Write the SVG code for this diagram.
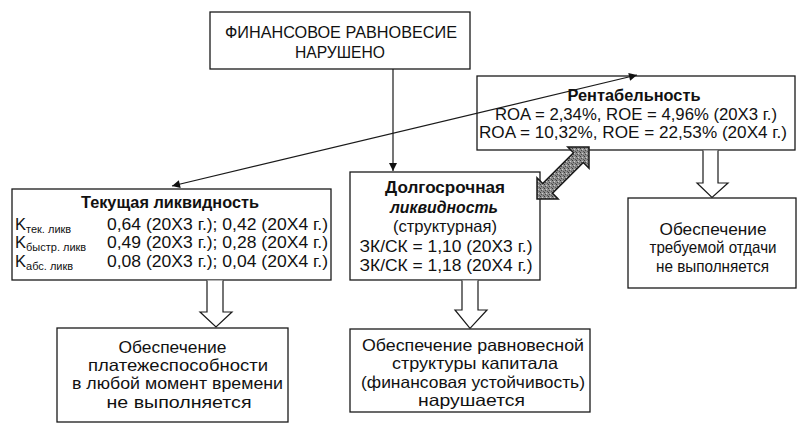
<svg xmlns="http://www.w3.org/2000/svg" width="806" height="432" viewBox="0 0 806 432">
<style>
.box{fill:none;stroke:#1a1a1a;stroke-width:1.3}
text{font-family:"Liberation Sans",Arial,sans-serif;fill:#111;font-size:16.5px}
.c{text-anchor:middle}
.b{font-weight:bold}
.s{font-size:11px}
.line{stroke:#1a1a1a;stroke-width:1.2;fill:none}
.hollow{fill:#fff;stroke:#1a1a1a;stroke-width:1.2;stroke-linejoin:miter}
</style>
<defs>
<marker id="ah" viewBox="0 0 10 10" refX="10" refY="5" markerWidth="11" markerHeight="8" markerUnits="userSpaceOnUse" orient="auto-start-reverse">
<path d="M0,0 L10,5 L0,10 Z" fill="#111"/>
</marker>
<pattern id="stip" width="4" height="4" patternUnits="userSpaceOnUse">
<rect width="4" height="4" fill="#8c8c8c"/>
<rect x="0" y="0" width="1" height="1" fill="#3a3a3a"/>
<rect x="2" y="1" width="1" height="1" fill="#cfcfcf"/>
<rect x="1" y="2" width="1" height="1" fill="#4a4a4a"/>
<rect x="3" y="3" width="1" height="1" fill="#555"/>
</pattern>
</defs>
<rect width="806" height="432" fill="#fff"/>

<g id="node-top">
<rect class="box" x="210" y="12" width="260" height="57"/>
<text class="c" x="341" y="38" textLength="232" lengthAdjust="spacingAndGlyphs">ФИНАНСОВОЕ РАВНОВЕСИЕ</text>
<text class="c" x="340" y="58" textLength="90" lengthAdjust="spacingAndGlyphs">НАРУШЕНО</text>
</g>

<g id="node-rent">
<rect class="box" x="477" y="76" width="318" height="74"/>
<text class="c b" x="634" y="101" textLength="133" lengthAdjust="spacingAndGlyphs">Рентабельность</text>
<text class="c" x="636" y="120" textLength="282" lengthAdjust="spacingAndGlyphs">ROA = 2,34%, ROE = 4,96% (20X3 г.)</text>
<text class="c" x="633" y="138" textLength="308" lengthAdjust="spacingAndGlyphs">ROA = 10,32%, ROE = 22,53% (20X4 г.)</text>
</g>

<g id="node-tek">
<rect class="box" x="12" y="189" width="319" height="91"/>
<text class="c b" x="170" y="208" textLength="178" lengthAdjust="spacingAndGlyphs">Текущая ликвидность</text>
<text x="15" y="230">K<tspan class="s" dy="3">тек. ликв</tspan></text>
<text x="107" y="230" textLength="221" lengthAdjust="spacingAndGlyphs">0,64 (20X3 г.); 0,42 (20X4 г.)</text>
<text x="15" y="248">K<tspan class="s" dy="3">быстр. ликв</tspan></text>
<text x="107" y="248" textLength="221" lengthAdjust="spacingAndGlyphs">0,49 (20X3 г.); 0,28 (20X4 г.)</text>
<text x="15" y="267">K<tspan class="s" dy="3">абс. ликв</tspan></text>
<text x="107" y="267" textLength="221" lengthAdjust="spacingAndGlyphs">0,08 (20X3 г.); 0,04 (20X4 г.)</text>
</g>

<g id="node-dolg">
<rect class="box" x="350" y="172" width="190" height="108"/>
<text class="c b" x="445" y="193" textLength="120" lengthAdjust="spacingAndGlyphs">Долгосрочная</text>
<text class="c b" x="444" y="213" font-style="italic" textLength="108" lengthAdjust="spacingAndGlyphs">ликвидность</text>
<text class="c" x="445" y="232" textLength="104" lengthAdjust="spacingAndGlyphs">(структурная)</text>
<text class="c" x="446" y="252" textLength="173" lengthAdjust="spacingAndGlyphs">ЗК/СК = 1,10 (20X3 г.)</text>
<text class="c" x="446" y="271" textLength="173" lengthAdjust="spacingAndGlyphs">ЗК/СК = 1,18 (20X4 г.)</text>
</g>

<g id="node-res1">
<rect class="box" x="57" y="328" width="231" height="94"/>
<text class="c" x="172.5" y="353" textLength="108" lengthAdjust="spacingAndGlyphs">Обеспечение</text>
<text class="c" x="178" y="371" textLength="180" lengthAdjust="spacingAndGlyphs">платежеспособности</text>
<text class="c" x="177.5" y="389" textLength="211" lengthAdjust="spacingAndGlyphs">в любой момент времени</text>
<text class="c" x="179" y="408" textLength="145" lengthAdjust="spacingAndGlyphs">не выполняется</text>
</g>

<g id="node-res2">
<rect class="box" x="350" y="329" width="240" height="83"/>
<text class="c" x="473" y="351" textLength="222" lengthAdjust="spacingAndGlyphs">Обеспечение равновесной</text>
<text class="c" x="475" y="369" textLength="166" lengthAdjust="spacingAndGlyphs">структуры капитала</text>
<text class="c" x="473" y="388" textLength="224" lengthAdjust="spacingAndGlyphs">(финансовая устойчивость)</text>
<text class="c" x="471.5" y="406" textLength="107" lengthAdjust="spacingAndGlyphs">нарушается</text>
</g>

<g id="node-res3">
<rect class="box" x="628" y="198" width="168" height="90"/>
<text class="c" x="713" y="235" textLength="107" lengthAdjust="spacingAndGlyphs">Обеспечение</text>
<text class="c" x="713" y="253" textLength="127" lengthAdjust="spacingAndGlyphs">требуемой отдачи</text>
<text class="c" x="712.5" y="272" textLength="113" lengthAdjust="spacingAndGlyphs">не выполняется</text>
</g>

<g id="connectors">
<line class="line" x1="393" y1="69" x2="393" y2="171" marker-end="url(#ah)"/>
<line class="line" x1="172" y1="186" x2="637" y2="75" marker-start="url(#ah)" marker-end="url(#ah)"/>
<path class="hollow" d="M207,280.6 L207,312 L200,312 L216,327 L232,312 L223,312 L223,280.6"/>
<path class="hollow" d="M462,280.6 L462,310 L455,310 L470,328.4 L487,310 L478,310 L478,280.6"/>
<path class="hollow" d="M703,150.6 L703,183 L697,183 L712,197.4 L728,183 L718,183 L718,150.6"/>
<polygon points="537,199 558.2,199 552.5,193.3 583.3,162.5 589,168.2 589,147 567.8,147 573.5,152.7 542.7,183.5 537,177.8" fill="url(#stip)" stroke="#1a1a1a" stroke-width="1.5" stroke-linejoin="miter"/>
</g>
</svg>
